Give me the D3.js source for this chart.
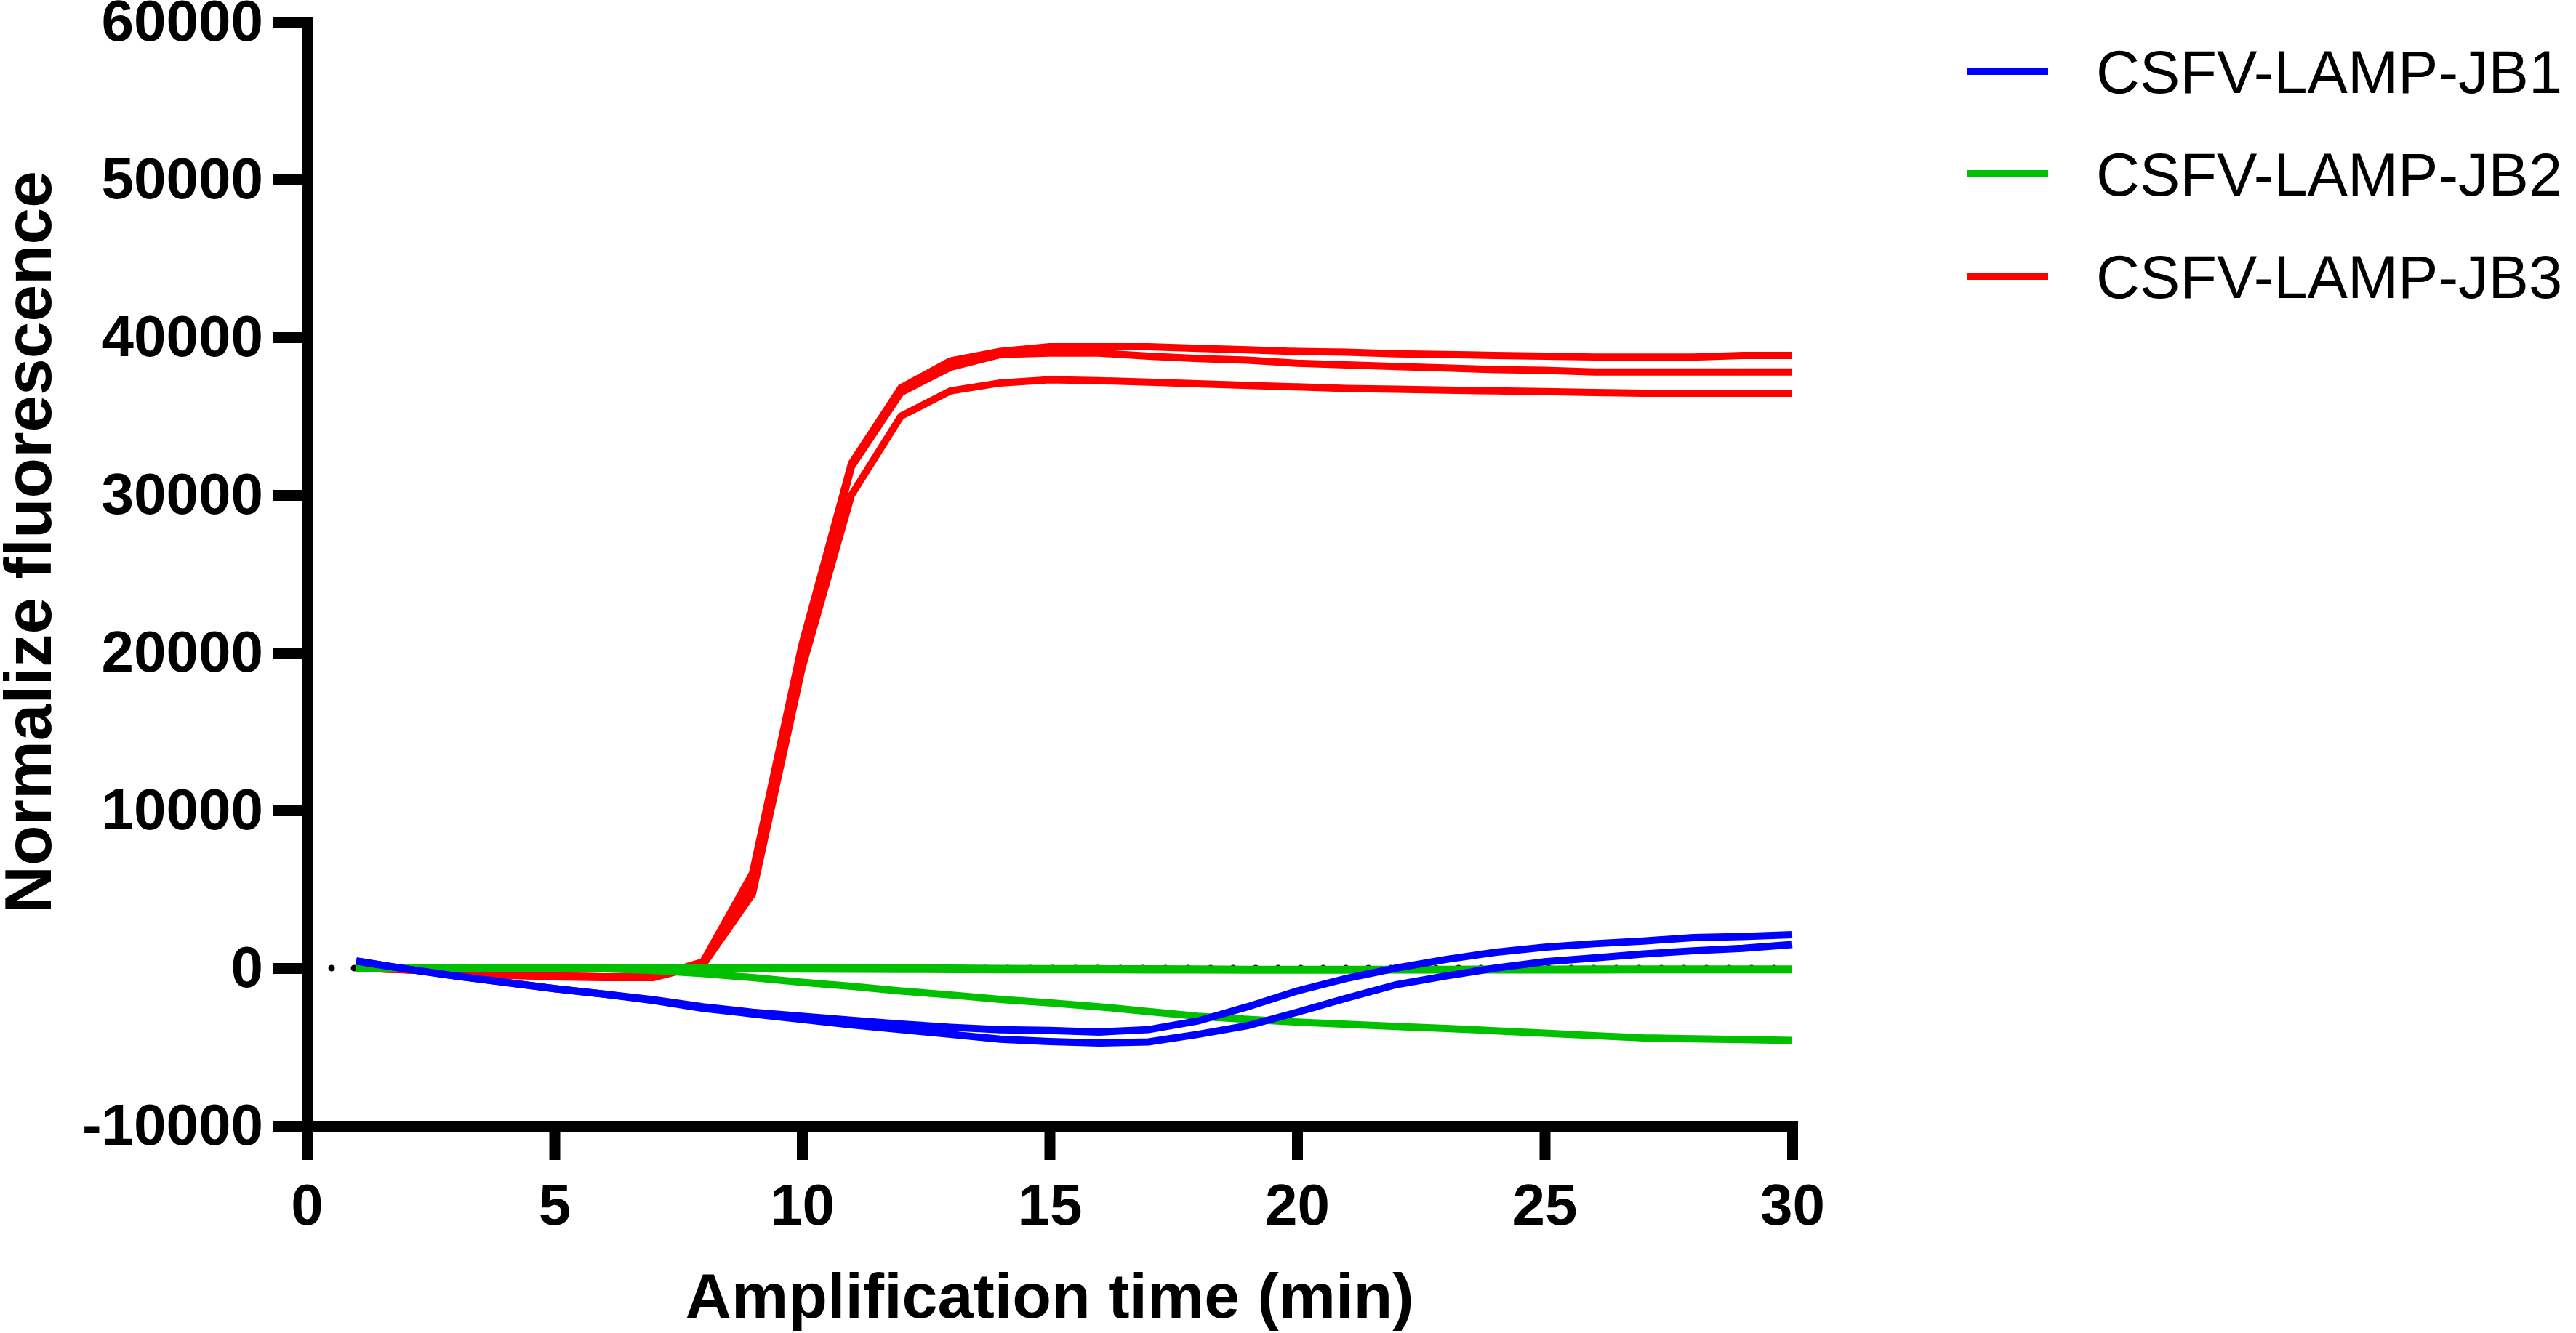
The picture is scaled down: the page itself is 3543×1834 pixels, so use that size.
<!DOCTYPE html>
<html>
<head>
<meta charset="utf-8">
<script src="https://cdn.jsdelivr.net/npm/d3@7"></script>
<style>
  body { margin: 0; background: #fff; overflow: hidden; }
</style>
</head>
<body>
<div class="canvas"></div>
<script>
// ---- data ----
const minutes = [1, 2, 3, 4, 5, 6, 7, 8, 9, 10, 11, 12, 13, 14, 15, 16, 17, 18, 19, 20, 21, 22, 23, 24, 25, 26, 27, 28, 29, 30];

const jb1RepA = [450, -50, -500, -900, -1300, -1650, -2000, -2450, -2800, -3050, -3300, -3550, -3750, -3900, -3950, -4050, -3900, -3350, -2450, -1450, -650, 0, 550, 1000, 1320, 1550, 1720, 1930, 2010, 2120];
const jb1RepB = [450, -50, -500, -900, -1300, -1650, -2050, -2550, -2900, -3250, -3600, -3900, -4200, -4500, -4650, -4750, -4680, -4200, -3650, -2800, -1900, -1050, -500, 0, 400, 650, 900, 1100, 1260, 1500];

const jb2RepA = [0, 50, 50, 50, 50, 50, 50, 50, 50, 50, 30, 20, 0, -20, -30, -40, -50, -60, -80, -80, -80, -80, -80, -70, -70, -60, -60, -60, -60, -60];
const jb2RepB = [0, -20, -30, -30, -30, -30, -40, -50, -50, -60, -70, -80, -90, -100, -100, -100, -110, -120, -130, -130, -130, -120, -120, -110, -110, -110, -100, -100, -100, -100];
const jb2RepC = [0, 0, 0, 0, 0, -50, -150, -350, -600, -900, -1150, -1450, -1700, -1980, -2200, -2450, -2750, -3050, -3250, -3420, -3560, -3700, -3820, -3970, -4120, -4280, -4420, -4480, -4530, -4590];

const jb3RepA = [0, -100, -250, -400, -500, -550, -550, 400, 6000, 20500, 32000, 36800, 38500, 39100, 39400, 39400, 39400, 39300, 39200, 39100, 39050, 38950, 38900, 38850, 38800, 38750, 38750, 38750, 38850, 38850];
const jb3RepB = [0, -100, -250, -400, -500, -550, -550, 300, 5200, 19800, 31800, 36500, 38100, 38900, 39000, 39000, 38800, 38650, 38550, 38350, 38250, 38150, 38050, 37950, 37900, 37800, 37800, 37800, 37800, 37800];
const jb3RepC = [0, -100, -300, -450, -550, -600, -600, 200, 4700, 19000, 30000, 35000, 36600, 37100, 37300, 37250, 37150, 37050, 36950, 36850, 36750, 36700, 36650, 36600, 36550, 36500, 36450, 36450, 36450, 36450];

// dotted zero baseline (mostly hidden under the green traces)
const baselineX = [0.5, 30];
const baselineY = [0, 0];

const seriesNames = ['CSFV-LAMP-JB1', 'CSFV-LAMP-JB2', 'CSFV-LAMP-JB3'];
const seriesColors = ['#0000ff', '#00c000', '#ff0000'];

const xTicks = [0, 5, 10, 15, 20, 25, 30];
const yTicks = [-10000, 0, 10000, 20000, 30000, 40000, 50000, 60000];

// ---- layout ----
const width = 3543;
const height = 1834;
const font = "'Liberation Sans', Arial, Helvetica, sans-serif";

const svg = d3.select('.canvas').append('svg')
  .attr('width', width)
  .attr('height', height);

const margin = { top: 30, right: 1078, bottom: 285, left: 422 };
const graphWidth = width - margin.left - margin.right;
const graphHeight = height - margin.top - margin.bottom;

const graph = svg.append('g')
  .attr('transform', `translate(${margin.left}, ${margin.top})`);

const x = d3.scaleLinear()
  .domain([0, 30])
  .range([0, graphWidth]);

const y = d3.scaleLinear()
  .domain([-10000, 60000])
  .range([graphHeight, 0]);

const line = d3.line()
  .x(d => x(d[0]))
  .y(d => y(d[1]));

// replicates grouped by series, red drawn first so blue ends on top
const groups = [
  { name: seriesNames[2], color: seriesColors[2], reps: [jb3RepA, jb3RepB, jb3RepC] },
  { name: seriesNames[1], color: seriesColors[1], reps: [jb2RepA, jb2RepB, jb2RepC] },
  { name: seriesNames[0], color: seriesColors[0], reps: [jb1RepA, jb1RepB] }
];

graph.append('path')
  .datum(baselineX.map((t, i) => [t, baselineY[i]]))
  .attr('d', line)
  .attr('fill', 'none')
  .attr('stroke', '#000')
  .attr('stroke-width', 9)
  .attr('stroke-linecap', 'round')
  .attr('stroke-dasharray', '0 31');

groups.forEach(g => {
  graph.append('g')
    .selectAll('path')
    .data(g.reps)
    .enter().append('path')
    .attr('d', rep => line(minutes.map((t, i) => [t, rep[i]])))
    .attr('fill', 'none')
    .attr('stroke', g.color)
    .attr('stroke-width', 10);
});

// axes
const xAxisGroup = graph.append('g').attr('transform', `translate(0, ${graphHeight})`);
const yAxisGroup = graph.append('g');

const xAxis = d3.axisBottom(x)
  .tickValues(xTicks)
  .tickSize(47)
  .tickSizeOuter(0)
  .tickPadding(32)
  .tickFormat(d => String(d));

const yAxis = d3.axisLeft(y)
  .tickValues(yTicks)
  .tickSize(46)
  .tickSizeOuter(0)
  .tickPadding(14)
  .tickFormat(d => String(d));

xAxisGroup.call(xAxis);
yAxisGroup.call(yAxis);

[xAxisGroup, yAxisGroup].forEach(ax => {
  ax.attr('font-family', font)
    .attr('font-size', 80)
    .attr('font-weight', 'bold');
  ax.select('.domain')
    .attr('stroke-width', 15)
    .attr('stroke-linecap', 'square');
  ax.selectAll('.tick line').attr('stroke-width', 15);
  ax.selectAll('text').attr('fill', '#000');
});

// axis titles
svg.append('text')
  .attr('x', margin.left + graphWidth / 2)
  .attr('y', 1813)
  .attr('text-anchor', 'middle')
  .attr('font-family', font)
  .attr('font-size', 88)
  .attr('font-weight', 'bold')
  .text('Amplification time (min)');

svg.append('text')
  .attr('transform', 'translate(70, 746) rotate(-90)')
  .attr('text-anchor', 'middle')
  .attr('font-family', font)
  .attr('font-size', 91)
  .attr('font-weight', 'bold')
  .text('Normalize fluorescence');

// legend
const legend = svg.append('g').attr('transform', 'translate(2705, 98)');
const legendItems = legend.selectAll('g')
  .data(seriesNames)
  .enter().append('g')
  .attr('transform', (d, i) => `translate(0, ${i * 141})`);

legendItems.append('line')
  .attr('x1', 0)
  .attr('x2', 112)
  .attr('stroke', (d, i) => seriesColors[i])
  .attr('stroke-width', 10);

legendItems.append('text')
  .attr('x', 178)
  .attr('y', 30)
  .attr('font-family', font)
  .attr('font-size', 83)
  .text(d => d);
</script>
</body>
</html>
